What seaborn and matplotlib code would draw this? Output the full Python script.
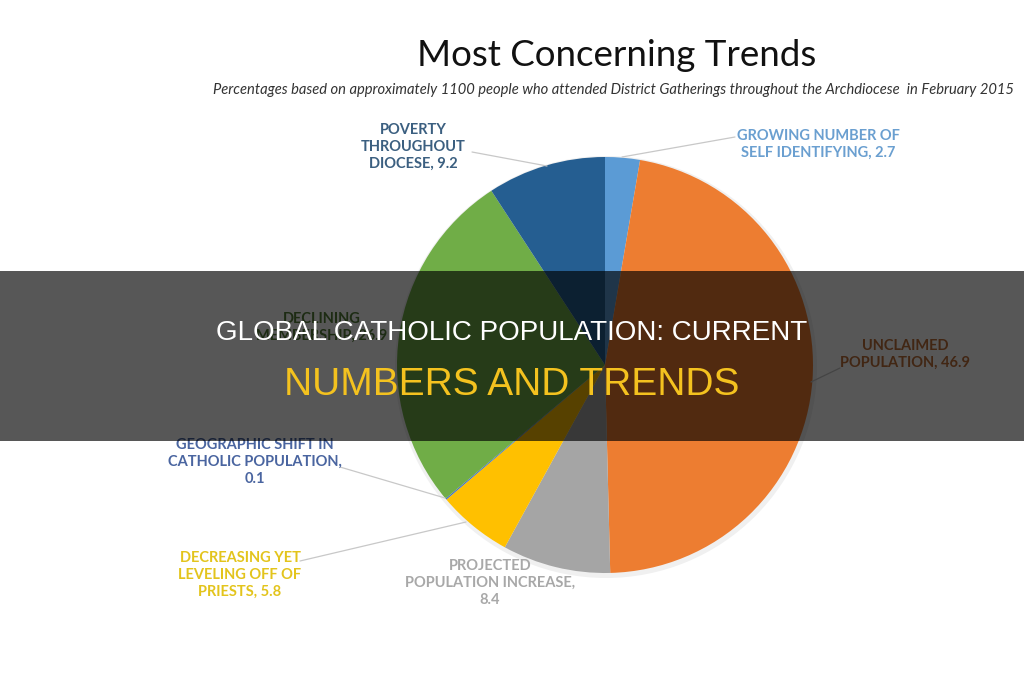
import seaborn as sns
import matplotlib.pyplot as plt
from matplotlib.patches import Rectangle

# slice data (clockwise from 12 o'clock)
trends = ["GROWING NUMBER OF\nSELF IDENTIFYING", "UNCLAIMED\nPOPULATION", "PROJECTED\nPOPULATION INCREASE,",
          "DECREASING YET\nLEVELING OFF OF\nPRIESTS", "GEOGRAPHIC SHIFT IN\nCATHOLIC POPULATION,",
          "DECLINING\nMEMBERSHIP", "POVERTY\nTHROUGHOUT\nDIOCESE"]
percent = [2.7, 46.9, 8.4, 5.8, 0.1, 26.9, 9.2]
slice_colors = ["#5b9bd5", "#ed7d31", "#a5a5a5", "#ffc000", "#4472c4", "#70ad47", "#255e91"]
label_colors = ["#6a9fd0", "#c0703a", "#a8a8a8", "#e3c41c", "#4a65a0", "#55803a", "#3b5f80"]

sns.set_theme(style="white")
plt.rcParams['font.family'] = ['Lato', 'DejaVu Sans']

fig = plt.figure(figsize=(10.24, 6.8), dpi=100)
ax = fig.add_axes([0, 0, 1, 1])

W, H = 1024, 680
cx, cy, r = 605, H - 365, 208

# soft shadow
ax.pie([1], colors=["#f0f0f0"], radius=r + 3, center=(cx + 1, cy - 2), startangle=90,
       wedgeprops=dict(linewidth=0))
ax.pie(percent, colors=sns.color_palette(slice_colors), radius=r, center=(cx, cy),
       startangle=90, counterclock=False, wedgeprops=dict(linewidth=0))
ax.set_xlim(0, W)
ax.set_ylim(0, H)
ax.set_aspect("equal")
ax.axis("off")

ax.text(617, H - 55, "Most Concerning Trends", ha="center", va="center", fontsize=26.5, color="#111111")
ax.text(613, H - 90, "Percentages based on approximately 1100 people who attended District Gatherings "
        "throughout the Archdiocese  in February 2015", ha="center", va="center", fontsize=10.6,
        style="italic", color="#333333")

# label text centers and leader line ends
label_pos = [(818, 144), (905, 354), (490, 583), (240, 575), (255, 462), (322, 327), (413, 147)]
leaders = [((735, 137), (622, 157)), ((840, 368), (811, 382)), None, ((300, 561), (466, 522)),
           ((340, 467), (445, 498)), None, ((472, 152), (547, 166))]

for name, val, col, (lx, ly), ld in zip(trends, percent, label_colors, label_pos, leaders):
    if name.endswith(","):
        txt = name + "\n" + str(val)
    else:
        txt = name + ", " + str(val)
    ax.text(lx, H - ly, txt, ha="center", va="center", fontsize=10.5, fontweight="bold",
            color=col, linespacing=1.25, zorder=3)
    if ld is not None:
        (x1, y1), (x2, y2) = ld
        ax.plot([x1, x2], [H - y1, H - y2], color="#c8c8c8", lw=0.9, zorder=2)

# dark banner overlay
ax.add_patch(Rectangle((0, H - 441), W, 170, color="black", alpha=0.66, zorder=5, linewidth=0))
ax.text(512, H - 333, "GLOBAL CATHOLIC POPULATION: CURRENT", ha="center", va="center",
        fontsize=20, color="white", family=["Liberation Sans"], zorder=6)
ax.text(512, H - 385, "NUMBERS AND TRENDS", ha="center", va="center",
        fontsize=28, color="#f4c21f", family=["Liberation Sans"], zorder=6)

plt.savefig("out.png", dpi=100)
